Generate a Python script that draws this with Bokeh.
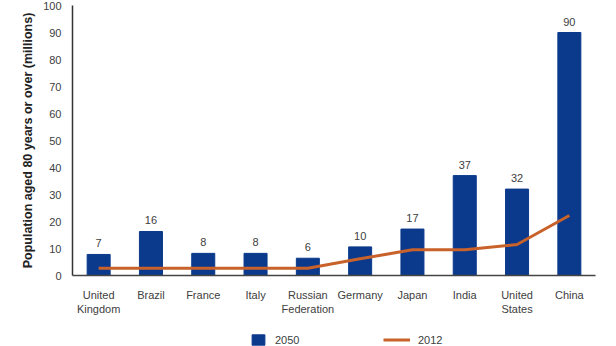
from bokeh.plotting import figure
from bokeh.layouts import column
from bokeh.models import ColumnDataSource, Range1d, FactorRange, Legend, LegendItem
from bokeh.core.properties import value
from bokeh.embed import file_html
from bokeh.resources import INLINE

countries = ["United\nKingdom", "Brazil", "France", "Italy", "Russian\nFederation",
             "Germany", "Japan", "India", "United\nStates", "China"]
pop_2050 = [7.8, 16.3, 8.2, 8.2, 6.4, 10.6, 17.2, 37, 32, 90]
labels_2050 = ["7", "16", "8", "8", "6", "10", "17", "37", "32", "90"]
pop_2012 = [2.7, 2.7, 2.7, 2.7, 2.7, 6.2, 9.5, 9.5, 11.5, 22.2]
y_ticks = [0, 10, 20, 30, 40, 50, 60, 70, 80, 90, 100]
series_names = ["2050", "2012"]

FONT = "Liberation Sans"
BAR = "#0b3a8c"
LINE = "#c8622a"
TXT = "#404040"

src = ColumnDataSource(dict(x=countries, top=pop_2050, lab=labels_2050, line=pop_2012))

p = figure(width=616, height=320, x_range=FactorRange(factors=countries, range_padding=0),
           y_range=Range1d(0, 100), output_backend="svg", toolbar_location=None,
           min_border_left=72, min_border_right=21, min_border_top=5, min_border_bottom=45)
p.outline_line_color = None
p.xgrid.visible = False
p.ygrid.visible = False

bars = p.vbar(x="x", top="top", width=0.44, source=src, color=BAR)
ln = p.line(x="x", y="line", source=src, line_color=LINE, line_width=3)
p.text(x="x", y="top", text="lab", source=src, text_align="center", text_baseline="bottom",
       y_offset=-7, text_font=value(FONT), text_font_size="11px", text_color=TXT)

p.yaxis.ticker = y_ticks
p.yaxis.axis_label = "Population aged 80 years or over (millions)"
p.yaxis.axis_label_text_font = FONT
p.yaxis.axis_label_text_font_style = "bold"
p.yaxis.axis_label_text_font_size = "12.5px"
p.yaxis.axis_label_text_color = "#222222"
p.yaxis.axis_label_standoff = 5
p.yaxis.major_label_standoff = 11
p.yaxis.major_tick_out = 0
p.yaxis.major_tick_in = 0
p.yaxis.minor_tick_out = 0
p.yaxis.minor_tick_in = 0
p.yaxis.axis_line_color = "#333333"
p.yaxis.axis_line_width = 1.5
p.yaxis.major_label_text_font = FONT
p.yaxis.major_label_text_font_size = "11px"
p.yaxis.major_label_text_color = TXT

p.xaxis.major_tick_out = 0
p.xaxis.major_tick_in = 0
p.xaxis.axis_line_color = "#444444"
p.xaxis.axis_line_width = 1.5
p.xaxis.major_label_standoff = 13
p.xaxis.major_label_text_font = FONT
p.xaxis.major_label_text_font_size = "11px"
p.xaxis.major_label_text_color = TXT

# legend strip below the chart (key glyphs carry no visible data)
lg = figure(width=616, height=26, x_range=Range1d(0, 616), y_range=Range1d(0, 26),
            x_axis_type=None, y_axis_type=None, output_backend="svg", toolbar_location=None,
            min_border=0)
lg.outline_line_color = None
nan = float("nan")
bar_key = lg.vbar(x=[nan], top=[nan], width=1, color=BAR)
line_key = lg.line(x=[nan, nan], y=[nan, nan], line_color=LINE, line_width=3)

common = dict(orientation="horizontal", glyph_height=13, label_height=13, padding=0, margin=0,
              border_line_color=None, background_fill_alpha=0, label_text_font=FONT,
              label_text_font_size="11px", label_text_color=TXT)
leg1 = Legend(items=[LegendItem(label=series_names[0], renderers=[bar_key])],
              location=(178, 0), glyph_width=16, label_standoff=9, **common)
leg2 = Legend(items=[LegendItem(label=series_names[1], renderers=[line_key])],
              location=(311, 0), glyph_width=27, label_standoff=8, **common)
lg.add_layout(leg1, "center")
lg.add_layout(leg2, "center")

layout = column(p, lg, spacing=0)
open("out.html", "w").write(file_html(layout, INLINE))
